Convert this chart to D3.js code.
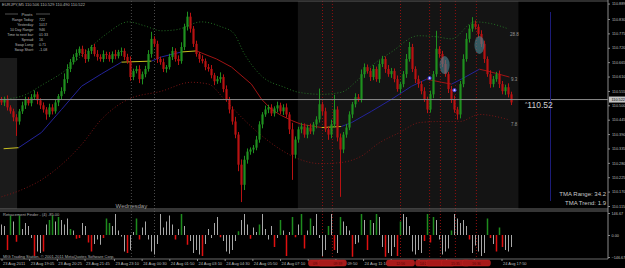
<!DOCTYPE html>
<html>
<head>
<meta charset="utf-8">
<script src="https://cdn.jsdelivr.net/npm/d3@7"></script>
<style>
  body { margin: 0; background: #000; }
  svg text { font-family: "Liberation Sans", Arial, sans-serif; }
</style>
</head>
<body>
<div id="chart"></div>
<script>
// prices are stored as points above 110.000 (1 point = 0.001)
var BASE = 110;
var firstOpen = 520;
var closes = [
  511, 523, 492, 477, 454, 438, 477, 500, 523, 508,
  531, 542, 519, 500, 484, 465, 492, 477, 511, 535,
  554, 600, 639, 665, 685, 700, 716, 696, 677, 708,
  723, 696, 685, 677, 696, 692, 677, 696, 688, 704,
  708, 685, 669, 608, 631, 639, 600, 619, 639, 696,
  754, 735, 677, 665, 639, 646, 685, 708, 677, 669,
  723, 800, 839, 793, 735, 696, 677, 669, 646, 639,
  615, 592, 600, 608, 562, 523, 484, 438, 388, 273,
  196, 292, 323, 331, 338, 369, 427, 465, 484, 492,
  469, 488, 500, 477, 492, 465, 408, 311, 369, 408,
  419, 388, 415, 400, 427, 446, 504, 477, 408, 388,
  427, 484, 377, 331, 388, 415, 465, 504, 531, 523,
  619, 646, 631, 608, 639, 600, 658, 677, 639, 619,
  631, 600, 562, 581, 619, 677, 723, 639, 600, 581,
  554, 523, 484, 542, 619, 716, 696, 658, 619, 562,
  523, 484, 465, 581, 677, 754, 793, 812, 800, 773,
  735, 677, 619, 581, 600, 619, 581, 554, 569, 542,
  511
];
var upWick = [
  12, 10, 15, 8, 10, 12, 9, 14, 10, 8,
  12, 15, 10, 8, 11, 9, 14, 12, 10, 8,
  15, 22, 18, 12, 10, 14, 9, 12, 18, 10,
  8, 12, 15, 10, 14, 9, 12, 10, 16, 8,
  13, 10, 12, 18, 9, 12, 14, 10, 12, 15,
  27, 10, 12, 9, 14, 8, 12, 15, 10, 14,
  18, 12, 19, 15, 10, 12, 8, 14, 10, 12,
  15, 9, 12, 18, 10, 14, 9, 12, 18, 10,
  20, 15, 12, 8, 10, 14, 12, 9, 15, 10,
  12, 8, 14, 10, 12, 15, 9, 25, 12, 10,
  14, 12, 10, 15, 9, 12, 60, 10, 14, 12,
  18, 56, 12, 15, 10, 14, 12, 9, 15, 12,
  18, 14, 10, 12, 15, 9, 14, 12, 10, 15,
  12, 10, 14, 9, 12, 19, 19, 12, 10, 14,
  12, 15, 10, 14, 12, 69, 10, 12, 15, 9,
  12, 14, 10, 12, 18, 22, 15, 25, 12, 10,
  14, 12, 10, 15, 12, 9, 14, 12, 10, 15,
  10
];
var dnWick = [
  10, 14, 12, 9, 15, 55, 12, 10, 14, 9,
  12, 10, 15, 14, 12, 20, 10, 12, 9, 14,
  12, 10, 15, 12, 9, 14, 10, 12, 15, 10,
  12, 9, 14, 10, 12, 15, 10, 14, 12, 9,
  15, 12, 10, 14, 12, 9, 15, 20, 12, 10,
  14, 12, 15, 10, 12, 14, 9, 12, 10, 15,
  10, 12, 14, 15, 12, 10, 14, 9, 12, 10,
  12, 15, 10, 14, 12, 9, 15, 12, 14, 25,
  66, 20, 15, 12, 14, 10, 12, 15, 9, 14,
  10, 12, 15, 10, 14, 12, 18, 96, 14, 12,
  15, 12, 14, 10, 12, 15, 12, 14, 10, 20,
  14, 12, 15, 181, 14, 12, 10, 14, 12, 9,
  12, 14, 10, 15, 12, 10, 14, 12, 15, 10,
  14, 12, 10, 15, 12, 14, 10, 12, 15, 14,
  12, 10, 14, 12, 15, 10, 14, 12, 10, 15,
  14, 12, 20, 15, 12, 10, 14, 12, 10, 14,
  12, 15, 10, 14, 12, 10, 15, 12, 14, 12,
  10
];

// TMA centre line and bands: [bar index, price]
var tmaMid = [
  [0.7, 110.334], [5.7, 110.338], [13.3, 110.396], [20, 110.484], [26.7, 110.573],
  [33.3, 110.620], [40, 110.665], [50, 110.669], [53.3, 110.685], [60, 110.704],
  [65, 110.708], [66.7, 110.700], [71.7, 110.677], [76.7, 110.646], [83.3, 110.581],
  [86.7, 110.523], [90, 110.484], [93.3, 110.461], [96.7, 110.442], [100, 110.427],
  [106.7, 110.415], [113.3, 110.419], [116.7, 110.434], [123.3, 110.477], [130, 110.523],
  [136.7, 110.573], [141.7, 110.600], [146.7, 110.588], [150, 110.581], [153.3, 110.600],
  [159.3, 110.638], [162, 110.631], [169.3, 110.608]
];
var tmaUpper = [
  [0, 110.523], [6.7, 110.535], [14, 110.581], [21, 110.631], [28.3, 110.708],
  [35, 110.773], [42.3, 110.819], [47.7, 110.804], [53.3, 110.785], [58.3, 110.789],
  [66.7, 110.819], [73.3, 110.800], [77.3, 110.777], [81, 110.696], [86.7, 110.612],
  [94.3, 110.569], [99, 110.550], [106.7, 110.542], [113.3, 110.550], [118.3, 110.592],
  [123.3, 110.650], [130, 110.704], [139, 110.766], [145, 110.762], [150, 110.754],
  [157.7, 110.819], [163.3, 110.812], [169, 110.792]
];
var tmaLower = [
  [0, 110.150], [6.7, 110.177], [13.3, 110.215], [20, 110.273], [26.7, 110.350],
  [33.3, 110.446], [38.3, 110.496], [42.3, 110.523], [53.3, 110.554], [63.3, 110.588],
  [69, 110.581], [74.3, 110.523], [79.7, 110.458], [86.3, 110.388], [93, 110.331],
  [99.7, 110.292], [106.3, 110.277], [113, 110.281], [119.7, 110.304], [126, 110.357],
  [132.7, 110.396], [139.3, 110.434], [146, 110.438], [152.7, 110.438], [159.3, 110.465],
  [168.7, 110.446]
];

// retracement finder histogram, one value per bar
var histValues = [
  70, 60, -100, 130, 90, -45, 130, 40, 80, 60,
  -20, -140, -110, -120, -110, 70, 100, 130, 90, 120,
  100, 70, 110, 40, 30, -25, -20, 80, 60, -50,
  -110, -60, -30, -65, -20, 110, 80, 60, 140, 30,
  -10, -110, -120, -100, 20, 110, -30, 50, 90, -30,
  -110, -130, -60, 140, 50, 90, 130, 70, -30, 40,
  140, 60, -65, -40, -120, -100, -130, -140, -60, 40,
  -20, 80, 120, -15, -40, -110, -125, -100, -40, 25,
  100, 140, 70, -25, 50, 20, 70, 140, 40, -30,
  60, -80, -20, 100, 30, -140, 20, 120, -15, 70,
  140, -90, 30, 110, 60, 140, -20, -140, -100, 60,
  140, -100, -120, 120, 90, 60, 30, -145, -60, -50,
  140, 100, -100, 100, 80, 140, 120, -80, -145, -120,
  -140, -80, -140, 90, 140, 120, 60, -110, -130, -100,
  -120, -40, 140, -50, 120, 100, -30, -130, -110, -90,
  30, 140, 110, 80, 100, 60, -30, -120, -70, -110,
  -140, -120, 110, -20, -60, -110, 50, -80, -100, -110,
  -80
];
// n = neutral (grey), g = green, r = red
var histState = ("nnrgnrgnnn" + "nrnnrnggng" + "nnngnrrnnr" + "rnnnrggnnn" + "nnrnngrnnn" +
  "nnnnnnnnrn" + "gnrnnnnrnn" + "nnnrnnnnng" + "nnnrnngnnn" + "nrngnrngrn" +
  "grngnnnnng" + "nrngnnnrnn" + "gnrgngnnrn" + "nnrgnnnnnn" + "nrgrgnnnnn" +
  "gnnnnnrnnn" + "nngrnrgrnn" + "n").split("");

var priceTicks = [110.889, 110.830, 110.775, 110.720, 110.665, 110.610, 110.555, 110.500,
  110.445, 110.390, 110.335, 110.280, 110.225, 110.170, 110.115];
var histTicks = [146.67, 0, -146.67];
var lastPrice = 110.522;

var timeLabels = [
  ["2011-08-23 17:45", "23 Aug 2011"], ["2011-08-23 19:05", "23 Aug 19:05"], ["2011-08-23 20:25", "23 Aug 20:25"],
  ["2011-08-23 21:45", "23 Aug 21:45"], ["2011-08-23 23:10", "23 Aug 23:10"], ["2011-08-24 00:30", "24 Aug 00:30"],
  ["2011-08-24 01:50", "24 Aug 01:50"], ["2011-08-24 03:10", "24 Aug 03:10"], ["2011-08-24 04:30", "24 Aug 04:30"],
  ["2011-08-24 05:50", "24 Aug 05:50"], ["2011-08-24 07:10", "24 Aug 07:10"], ["2011-08-24 08:30", "24 Aug 08:30"],
  ["2011-08-24 09:50", "24 Aug 09:50"], ["2011-08-24 11:10", "24 Aug 11:10"], ["2011-08-24 12:30", "24 Aug 12:30"],
  ["2011-08-24 13:50", "24 Aug 13:50"], ["2011-08-24 15:10", "24 Aug 15:10"], ["2011-08-24 16:30", "24 Aug 16:30"],
  ["2011-08-24 17:50", "24 Aug 17:50"]
];

// news events (bar index) and session separators
var eventBars = [107, 110.3, 133, 142.7, 146.3, 151.3, 158.3];
var dayBars = [43.3, 51];

var pivotRows = [
  ["Range  Today:", "722"], ["Yesterday:", "1017"], ["10 Day Range:", "946"],
  ["Time to next bar:", "01:33"], ["Spread:", "16"], ["Swap  Long:", "0.71"], ["Swap  Short:", "-1.08"]
];

var signalDots = [[142.7, 110.604], [151, 110.558]];
var signalBlobs = [[147.7, 110.654], [159.3, 110.731]];

window.onload = () => {
  var width = 625, height = 268;
  var axisX = 608;
  var mainTop = 1, mainBottom = 209, subTop = 211, subBottom = 259;
  var boxHalf = 14;

  var svg = d3.select("#chart").append("svg")
    .attr("width", width)
    .attr("height", height)
    .style("background", "#000");

  var x = d3.scaleLinear().domain([0, closes.length - 1]).range([1.5, 511.5]);
  var y = d3.scaleLinear().domain([110.115, 110.830]).range([206, 19]);
  var yh = d3.scaleLinear().domain([-146.67, 146.67]).range([257, 213]);
  var parse = d3.timeParse("%Y-%m-%d %H:%M");
  var t = d3.scaleTime()
    .domain([parse("2011-08-23 17:45"), parse("2011-08-24 17:50")])
    .range([2, 502]);

  // background shading
  svg.append("rect").attr("x", 0).attr("y", 58).attr("width", x(5.2)).attr("height", mainBottom - 58)
    .attr("fill", "#1b1b1b");
  svg.append("rect").attr("x", x(98.8)).attr("y", mainTop).attr("width", x(172.3) - x(98.8))
    .attr("height", mainBottom - mainTop).attr("fill", "#141414");

  // separators
  svg.selectAll(".day").data(dayBars).enter().append("line")
    .attr("x1", d => x(d)).attr("x2", d => x(d))
    .attr("y1", mainTop).attr("y2", subBottom)
    .attr("stroke", "#4a4a4a").attr("stroke-dasharray", "1,2");
  svg.selectAll(".evt").data(eventBars).enter().append("line")
    .attr("x1", d => x(d)).attr("x2", d => x(d))
    .attr("y1", mainTop).attr("y2", subBottom)
    .attr("stroke", "#8e1010").attr("stroke-dasharray", "1,2");

  // frame
  svg.append("line").attr("x1", 0).attr("x2", axisX).attr("y1", mainTop).attr("y2", mainTop).attr("stroke", "#5a5a5a");
  svg.append("line").attr("x1", 0).attr("x2", axisX).attr("y1", mainBottom).attr("y2", mainBottom).attr("stroke", "#6a6a6a");
  svg.append("line").attr("x1", 0).attr("x2", axisX).attr("y1", subTop).attr("y2", subTop).attr("stroke", "#6a6a6a");
  svg.append("line").attr("x1", 0).attr("x2", axisX).attr("y1", subBottom).attr("y2", subBottom).attr("stroke", "#6a6a6a");

  // TMA bands
  var band = d3.line().x(d => x(d[0])).y(d => y(d[1])).curve(d3.curveMonotoneX);
  svg.append("path").datum(tmaUpper).attr("d", band)
    .attr("fill", "none").attr("stroke", "#237023").attr("stroke-dasharray", "1,2");
  svg.append("path").datum(tmaLower).attr("d", band)
    .attr("fill", "none").attr("stroke", "#7a1414").attr("stroke-dasharray", "1,2");

  // centre line, coloured by slope
  var segs = d3.pairs(tmaMid);
  svg.selectAll(".mid").data(segs).enter().append("line")
    .attr("x1", d => x(d[0][0])).attr("y1", d => y(d[0][1]))
    .attr("x2", d => x(d[1][0])).attr("y2", d => y(d[1][1]))
    .attr("stroke", d => {
      var s = (d[1][1] - d[0][1]) / (d[1][0] - d[0][0]);
      if (Math.abs(s) < 0.0012) return "#c8c020";
      return s > 0 ? "#23239a" : "#a01414";
    })
    .attr("stroke-width", 1);

  // candles
  var bars = closes.map((c, i) => {
    var o = i ? closes[i - 1] : firstOpen;
    return {
      i: i,
      o: BASE + o / 1000,
      c: BASE + c / 1000,
      h: BASE + (Math.max(o, c) + upWick[i]) / 1000,
      l: BASE + (Math.min(o, c) - dnWick[i]) / 1000
    };
  });
  var col = d => d.c >= d.o ? "#1f901f" : "#b81212";

  var candle = svg.selectAll(".candle").data(bars).enter().append("g");
  candle.append("line")
    .attr("x1", d => x(d.i)).attr("x2", d => x(d.i))
    .attr("y1", d => y(d.h)).attr("y2", d => y(d.l))
    .attr("stroke", col);
  candle.append("rect")
    .attr("x", d => x(d.i) - 1.1)
    .attr("width", 2.2)
    .attr("y", d => y(Math.max(d.o, d.c)))
    .attr("height", d => Math.max(1, Math.abs(y(d.o) - y(d.c))))
    .attr("fill", col);

  // signal markers
  svg.selectAll(".blob").data(signalBlobs).enter().append("ellipse")
    .attr("cx", d => x(d[0])).attr("cy", d => y(d[1]))
    .attr("rx", 5).attr("ry", 9)
    .attr("fill", "#4f8794").attr("opacity", 0.6);
  svg.selectAll(".dot").data(signalDots).enter().append("circle")
    .attr("cx", d => x(d[0])).attr("cy", d => y(d[1])).attr("r", 1.6)
    .attr("fill", "#d0d0ff").attr("stroke", "#3030e0").attr("stroke-width", 1);

  // last price line
  svg.append("line").attr("x1", 0).attr("x2", axisX)
    .attr("y1", y(lastPrice)).attr("y2", y(lastPrice))
    .attr("stroke", "#8a8a8a");

  // band level labels
  svg.append("text").attr("x", 510).attr("y", 36).text("28.8")
    .attr("fill", "#9a9a9a").attr("font-size", 4.5);
  svg.append("text").attr("x", 511).attr("y", 81).text("9.3")
    .attr("fill", "#9a9a9a").attr("font-size", 4.5);
  svg.append("text").attr("x", 511).attr("y", 126).text("7.8")
    .attr("fill", "#9a9a9a").attr("font-size", 4.5);

  // projection line
  svg.append("line").attr("x1", x(183)).attr("x2", x(183)).attr("y1", 12).attr("y2", 201)
    .attr("stroke", "#1c1c78");

  var big = svg.append("text").attr("x", 525).attr("y", 108).attr("fill", "#cfcfcf").attr("font-size", 8.5);
  big.append("tspan").attr("font-size", 5).attr("dy", -2).text("^");
  big.append("tspan").attr("dy", 2).text(lastPrice.toFixed(2));

  svg.append("text").attr("x", 606).attr("y", 196).attr("text-anchor", "end")
    .attr("fill", "#c8c8c8").attr("font-size", 6).text("TMA Range:  34.2");
  svg.append("text").attr("x", 606).attr("y", 205).attr("text-anchor", "end")
    .attr("fill", "#c8c8c8").attr("font-size", 6).text("TMA Trend:  1.9");

  svg.append("text").attr("x", x(43.3)).attr("y", 207.5).attr("text-anchor", "middle")
    .attr("fill", "#a0a0a0").attr("font-size", 6).text("Wednesday");

  // pivot panel
  svg.append("rect").attr("x", 0).attr("y", 2).attr("width", 56).attr("height", 56).attr("fill", "#000");
  svg.append("text").attr("x", 2).attr("y", 6).attr("fill", "#b8b8b8").attr("font-size", 4)
    .text("EURJPY,M5  110.506 110.529 110.490 110.522");
  svg.append("line").attr("x1", 5).attr("x2", 18).attr("y1", 14).attr("y2", 14).attr("stroke", "#a0a0a0").attr("stroke-width", 0.5);
  svg.append("line").attr("x1", 36).attr("x2", 50).attr("y1", 14).attr("y2", 14).attr("stroke", "#a0a0a0").attr("stroke-width", 0.5);
  svg.append("text").attr("x", 27).attr("y", 15.5).attr("text-anchor", "middle")
    .attr("fill", "#b8b8b8").attr("font-size", 4).text("Pivots");
  var rows = svg.selectAll(".pv").data(pivotRows).enter().append("g")
    .attr("transform", (d, i) => "translate(0," + (20.5 + i * 5.1) + ")");
  rows.append("text").attr("x", 34).attr("text-anchor", "end")
    .attr("fill", "#b8b8b8").attr("font-size", 3.6).text(d => d[0]);
  rows.append("text").attr("x", 39)
    .attr("fill", "#b8b8b8").attr("font-size", 3.6).text(d => d[1]);

  // histogram sub window
  svg.selectAll(".hb").data(histValues).enter().append("rect")
    .attr("x", (d, i) => x(i) - (histState[i] === "n" ? 0.5 : 0.75))
    .attr("width", (d, i) => histState[i] === "n" ? 1 : 1.5)
    .attr("y", d => yh(Math.max(0, d)))
    .attr("height", d => Math.abs(yh(d) - yh(0)))
    .attr("fill", (d, i) => histState[i] === "g" ? "#1e8c1e" : histState[i] === "r" ? "#e01010" : "#a8a8a8");

  svg.append("text").attr("x", 3).attr("y", 215.5).attr("fill", "#b0b0b0").attr("font-size", 4)
    .text("Retracement Finder - (4) -85.00");
  svg.append("text").attr("x", 3).attr("y", 257.5).attr("fill", "#b0b0b0").attr("font-size", 4)
    .text("MIG Trading Station, \u00a9 2001-2011 MetaQuotes Software Corp.");

  // right axes
  svg.append("line").attr("x1", axisX).attr("x2", axisX).attr("y1", 0).attr("y2", subBottom).attr("stroke", "#8a8a8a");
  var pa = svg.append("g").attr("transform", "translate(" + axisX + ",0)")
    .call(d3.axisRight(y).tickValues(priceTicks).tickFormat(d3.format(".3f")).tickSize(2).tickPadding(2));
  var ha = svg.append("g").attr("transform", "translate(" + axisX + ",0)")
    .call(d3.axisRight(yh).tickValues(histTicks).tickFormat(d3.format(".2f")).tickSize(2).tickPadding(1.5));
  [pa, ha].forEach(a => {
    a.select(".domain").remove();
    a.selectAll("line").attr("stroke", "#8a8a8a");
    a.selectAll("text").attr("fill", "#bdbdbd").attr("font-size", 3.8)
      .attr("font-family", "Liberation Sans, Arial, sans-serif");
  });

  svg.append("rect").attr("x", axisX + 1).attr("y", y(lastPrice) - 3).attr("width", 16).attr("height", 6)
    .attr("fill", "#c4c4c4");
  svg.append("text").attr("x", axisX + 3.5).attr("y", y(lastPrice) + 1.5)
    .attr("fill", "#000").attr("font-size", 3.8).text(lastPrice.toFixed(3));

  // time axis; labels under the news boxes stay hidden as on the terminal
  var boxes = eventBars.map(d => [x(d) - boxHalf, x(d) + boxHalf]);
  var coverEnd = px => {
    var hit = boxes.find(b => px >= b[0] - 3 && px <= b[1]);
    if (!hit) return null;
    var end = hit[1];
    boxes.forEach(b => { if (b[0] <= end && b[1] > end) end = b[1]; });
    return end;
  };
  var tl = svg.selectAll(".tl").data(timeLabels).enter().append("g")
    .attr("transform", d => "translate(" + t(parse(d[0])) + ",0)");
  tl.append("line").attr("y1", subBottom).attr("y2", subBottom + 2).attr("stroke", "#8a8a8a");
  tl.append("text").attr("x", 1).attr("y", 264.5).attr("fill", "#bdbdbd").attr("font-size", 4)
    .text(d => d[1])
    .each(function (d) {
      var px = t(parse(d[0]));
      var end = coverEnd(px);
      if (end === null) return;
      var len = this.getComputedTextLength();
      if (px + len - end > 12) {
        d3.select(this).attr("x", end - px + 1).text(d[1].slice(7));
      } else {
        d3.select(this).remove();
      }
    });

  // news labels on the time axis; close neighbours push their text apart
  var fmt = d3.timeFormat("%H:%M");
  var ev = svg.selectAll(".evl").data(eventBars).enter().append("g")
    .attr("transform", d => "translate(" + x(d) + ",0)");
  ev.append("rect").attr("x", -boxHalf).attr("y", 260).attr("width", boxHalf * 2).attr("height", 6).attr("rx", 2)
    .attr("fill", "#a81a1a").attr("stroke", "#c02424").attr("stroke-width", 0.5);
  ev.append("text").attr("y", 264.5)
    .attr("fill", "#5c0606").attr("font-size", 3.5)
    .attr("text-anchor", (d, i) => {
      var next = eventBars[i + 1], prev = eventBars[i - 1];
      if (next !== undefined && x(next) - x(d) < 12) return "end";
      if (prev !== undefined && x(d) - x(prev) < 12) return "start";
      return "middle";
    })
    .attr("x", function (d, i) {
      var a = d3.select(this).attr("text-anchor");
      return a === "end" ? -1 : a === "start" ? 1 : 0;
    })
    .text(d => fmt(t.invert(x(d))));
}
</script>
</body>
</html>
